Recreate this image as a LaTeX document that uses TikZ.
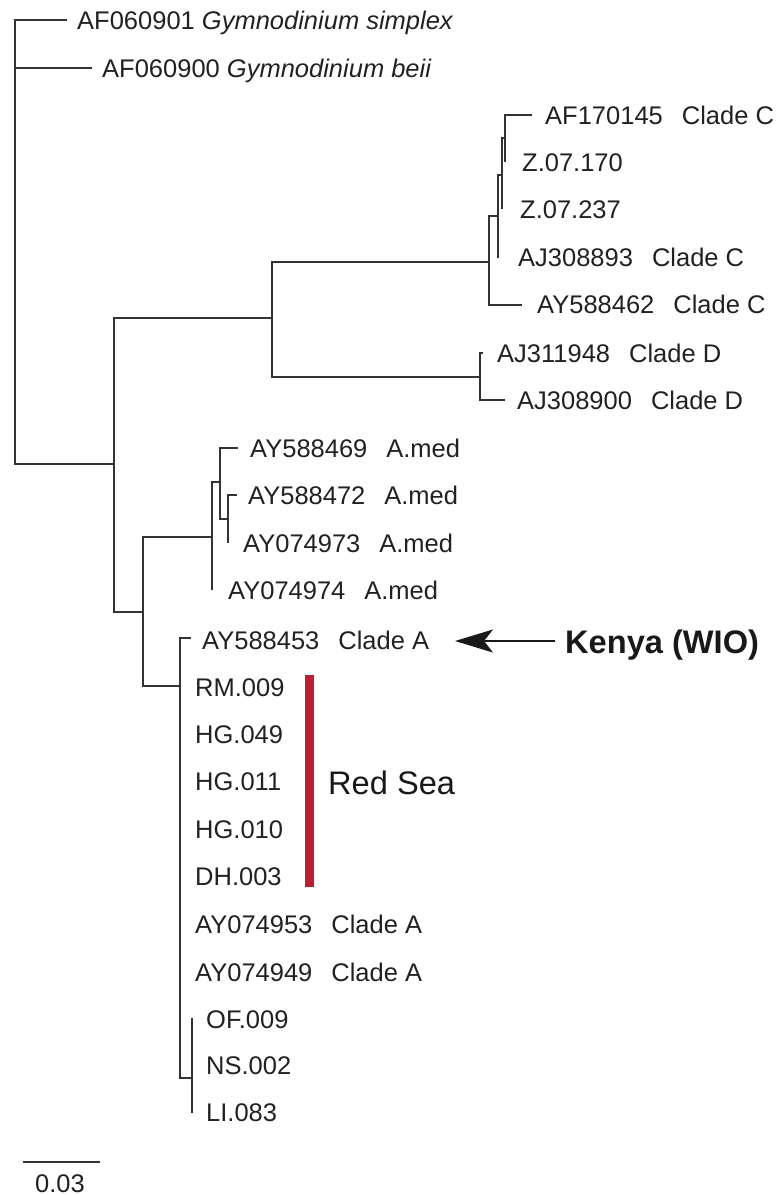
\documentclass[tikz,border=0pt]{standalone}
\usepackage{fontspec}
\setmainfont{Liberation Sans}
\usetikzlibrary{arrows.meta}
\definecolor{redsea}{RGB}{190,30,45}
\newcommand{\tsep}{\hspace{19pt}}

\begin{document}
\begin{tikzpicture}[x=1pt,y=-1pt,
    br/.style={line width=1.6pt,draw=black!80,line join=miter},
    lab/.style={anchor=base west,inner sep=0pt,text=black!87,font=\fontsize{25.5}{30}\selectfont},
    big/.style={anchor=base west,inner sep=0pt,text=black!90,font=\fontsize{32.6}{38}\selectfont}]
  \useasboundingbox (0,0) rectangle (778,1195);
  % inner nodes
  \coordinate (root) at (15,464);
  \coordinate (nIn) at (114,464);
  \coordinate (nCD) at (272,318);
  \coordinate (nC) at (489,262);
  \coordinate (nC3) at (498,216);
  \coordinate (nC2) at (502,175);
  \coordinate (nC1) at (505,138);
  \coordinate (nD) at (480,377);
  \coordinate (nA) at (143,612);
  \coordinate (nMed) at (212,537);
  \coordinate (nMed2) at (220,482);
  \coordinate (nMed3) at (228,519);
  \coordinate (nCA) at (180,686);
  \coordinate (nOF) at (192,1078);
  % tips
  \coordinate (l1) at (67,20);   \coordinate (l2) at (92,68);
  \coordinate (c1) at (532,115); \coordinate (c2) at (505,162);
  \coordinate (c3) at (502,209); \coordinate (c4) at (499,257);
  \coordinate (c5) at (522,305);
  \coordinate (d1) at (483,353); \coordinate (d2) at (505,400);
  \coordinate (m1) at (238,448); \coordinate (m2) at (237,495);
  \coordinate (m3) at (228,543); \coordinate (m4) at (212,590);
  \coordinate (a1) at (191,638);
  \coordinate (o1) at (192,1018); \coordinate (o3) at (192,1113);

  % branches
  \draw[br] (l1) -| (root) -- (nIn);
  \draw[br] (root |- l2) -- (l2);
  \draw[br] (nCD) -| (nIn) |- (nA);
  \draw[br] (nC) -| (nCD) |- (nD);
  \draw[br] (nC3) -| (nC) |- (c5);
  \draw[br] (nC2) -| (nC3) |- (c4);
  \draw[br] (nC1) -| (nC2) |- (c3);
  \draw[br] (c1) -| (nC1) |- (c2);
  \draw[br] (d1) -| (nD) |- (d2);
  \draw[br] (nMed) -| (nA) |- (nCA);
  \draw[br] (nMed2) -| (nMed) |- (m4);
  \draw[br] (m1) -| (nMed2) |- (nMed3);
  \draw[br] (m2) -| (nMed3) |- (m3);
  \draw[br] (a1) -| (nCA) |- (nOF);
  \draw[br] (o1) -- (o3);

  % leaf labels
  \node[lab] (tl1) at (77,29) {AF060901 \textit{Gymnodinium simplex}};
  \node[lab] (tl2) at (102,77) {AF060900 \textit{Gymnodinium beii}};
  \node[lab] (tc1) at (545,124) {AF170145\tsep Clade C};
  \node[lab] (tc2) at (522,171) {Z.07.170};
  \node[lab] (tc3) at (520,218) {Z.07.237};
  \node[lab] (tc4) at (518,266) {AJ308893\tsep Clade C};
  \node[lab] (tc5) at (537,313) {AY588462\tsep Clade C};
  \node[lab] (td1) at (497,362) {AJ311948\tsep Clade D};
  \node[lab] (td2) at (517,409) {AJ308900\tsep Clade D};
  \node[lab] (tm1) at (250,457) {AY588469\tsep A.med};
  \node[lab] (tm2) at (248,504) {AY588472\tsep A.med};
  \node[lab] (tm3) at (243,552) {AY074973\tsep A.med};
  \node[lab] (tm4) at (228,599) {AY074974\tsep A.med};
  \node[lab] (ta1) at (202,649) {AY588453\tsep Clade A};
  \node[lab] (tr1) at (195,696) {RM.009};
  \node[lab] (tr2) at (195,743) {HG.049};
  \node[lab] (tr3) at (195,790) {HG.011};
  \node[lab] (tr4) at (195,838) {HG.010};
  \node[lab] (tr5) at (195,885) {DH.003};
  \node[lab] (ta2) at (195,933) {AY074953\tsep Clade A};
  \node[lab] (ta3) at (195,981) {AY074949\tsep Clade A};
  \node[lab] (to1) at (206,1028) {OF.009};
  \node[lab] (to2) at (206,1074) {NS.002};
  \node[lab] (to3) at (206,1121) {LI.083};

  % Red Sea group
  \fill[redsea] (305,675) rectangle (314,887);
  \node[big] (rs) at (328,794) {Red Sea};

  % Kenya arrow
  \node[big,font=\fontsize{32.6}{38}\selectfont\bfseries] (kenya) at (565,653) {Kenya (WIO)};
  \coordinate (ks) at (555,641);
  \coordinate (kt) at (455,641);
  \draw[line width=1.6pt,draw=black!90,-{Stealth[length=38pt,width=23pt,inset=9pt]}] (ks) -- (kt);

  % scale bar
  \coordinate (sb0) at (23,1162);
  \coordinate (sb1) at (100,1162);
  \draw[br] (sb0) -- (sb1);
  \node[lab,anchor=base] (sbl) at (60,1192) {0.03};
\end{tikzpicture}
\end{document}
